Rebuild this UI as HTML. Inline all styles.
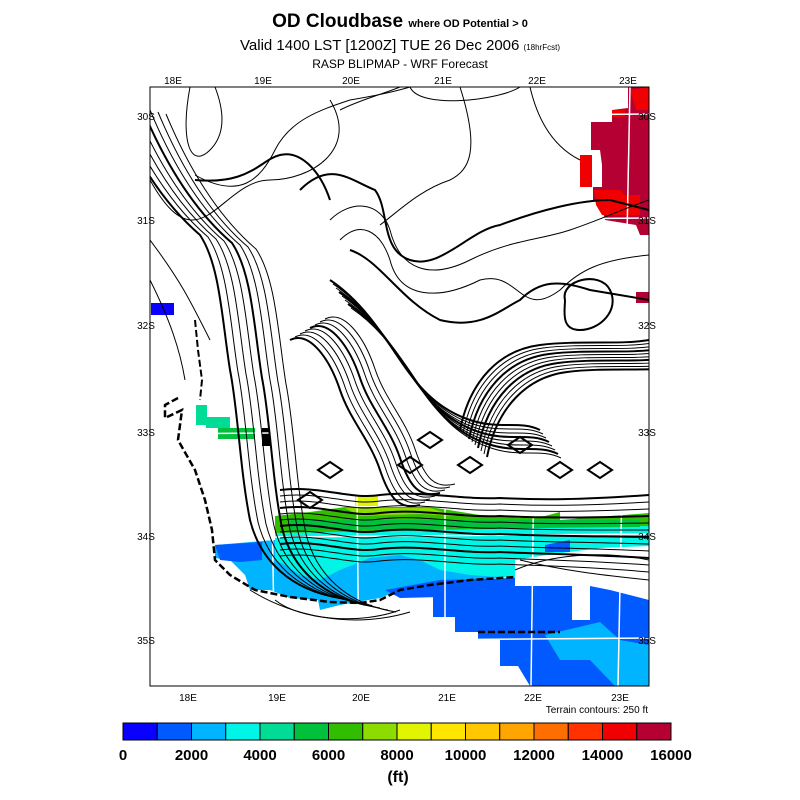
<!DOCTYPE html>
<html><head><meta charset="utf-8">
<style>
body{margin:0;background:#fff;width:800px;height:800px;overflow:hidden;font-family:"Liberation Sans",sans-serif}
svg{display:block}
text{font-family:"Liberation Sans",sans-serif}
</style></head>
<body>
<svg id="chart" width="800" height="800" viewBox="0 0 800 800">
  <defs><clipPath id="mapclip"><rect x="150" y="87" width="499" height="599"/></clipPath></defs>
  <text x="400" y="27" text-anchor="middle" font-size="19" font-weight="bold">OD Cloudbase <tspan font-size="11">where OD Potential &gt; 0</tspan></text>
  <text x="400" y="50" text-anchor="middle" font-size="15">Valid 1400 LST [1200Z] TUE 26 Dec 2006 <tspan font-size="8">(18hrFcst)</tspan></text>
  <text x="400" y="68" text-anchor="middle" font-size="12">RASP BLIPMAP - WRF Forecast</text>

  <g id="map">
    <g clip-path="url(#mapclip)">
      <g id="fills"></g>
      <g id="grid" stroke="#fff" stroke-width="1.5" fill="none"></g>
      <g id="contours" fill="none" stroke="#000"></g>
    </g>
    <rect x="150" y="87" width="499" height="599" fill="none" stroke="#000" stroke-width="1"/>
    <g id="labels" font-size="10"></g>
  </g>
  <text x="648" y="713" text-anchor="end" font-size="10">Terrain contours: 250 ft</text>
  <g id="colorbar"></g>
  <text x="398" y="782" text-anchor="middle" font-size="16" font-weight="bold">(ft)</text>
</svg>
<script>
const levels=[0,1000,2000,3000,4000,5000,6000,7000,8000,9000,10000,11000,12000,13000,14000,15000,16000];
const levelColors=["#0a00ff","#005aff","#00b4ff","#00f5e6","#00dc96","#00c03c","#32be00","#8cdc00","#e1f500","#ffe600","#ffc800","#ffa500","#ff6e00","#ff3200","#f00000","#b40032"];
const tickLabels=[0,2000,4000,6000,8000,10000,12000,14000,16000];
const lonTop=["18E","19E","20E","21E","22E","23E"];
const lonBottom=["18E","19E","20E","21E","22E","23E"];
const latLabels=["30S","31S","32S","33S","34S","35S"];

const NS="http://www.w3.org/2000/svg";
function mk(tag,attrs,parent){const e=document.createElementNS(NS,tag);for(const k in attrs)e.setAttribute(k,attrs[k]);parent.appendChild(e);return e;}
const cb=document.getElementById('colorbar');
const cbX0=123,cbX1=671,cbY=723,cbH=17;
function cbx(v){return cbX0+(v-levels[0])/(levels[levels.length-1]-levels[0])*(cbX1-cbX0);}
for(let i=0;i<levelColors.length;i++){
  const r=mk('rect',{x:cbx(levels[i]),y:cbY,width:cbx(levels[i+1])-cbx(levels[i]),height:cbH,fill:levelColors[i],stroke:'#000','stroke-width':1},cb);
  
  
}
tickLabels.forEach(v=>{
  const t=mk('text',{x:cbx(v),y:760,'text-anchor':'middle','font-size':15,'font-weight':'bold'},cb);
  t.textContent=v;
  
  
});
const lab=document.getElementById('labels');
const topX=[173,263,351,443,537,628],botX=[188,277,361,447,533,620],latY=[116,220,325,432,536,640];
lonTop.forEach((s,i)=>{const t=mk('text',{x:topX[i],y:84,'text-anchor':'middle'},lab);t.textContent=s;});
lonBottom.forEach((s,i)=>{const t=mk('text',{x:botX[i],y:701,'text-anchor':'middle'},lab);t.textContent=s;});
latLabels.forEach((s,i)=>{
  let t=mk('text',{x:146,y:latY[i]+4,'text-anchor':'middle'},lab);t.textContent=s;
  t=mk('text',{x:647,y:latY[i]+4,'text-anchor':'middle'},lab);t.textContent=s;
});
const F=document.getElementById('fills');
function poly(pts,col,name){const p=mk('polygon',{points:pts,fill:col},F);}
poly("433,586 572,586 572,620 590,620 590,586 610,590 649,600 649,686 530,686 518,666 500,666 500,640 478,640 478,632 455,632 455,617 433,617",levelColors[1],"south-blue-area");
poly("545,635 600,622 620,640 649,645 649,686 615,686 590,660 560,660","#00b4ff","south-lightblue-area");
poly("215,545 275,540 515,545 515,575 450,585 405,588 380,598 340,605 320,610 318,600 290,598 270,590 250,590 245,575 230,560 215,558","#00b4ff","coastal-lightblue-area");
poly("385,590 440,580 515,578 515,590 440,597 400,598","#005aff","coastal-blue-strip");
poly("215,545 262,542 262,560 240,562 220,560","#005aff","west-blue-patch");
poly("275,528 649,520 649,546 600,548 570,552 540,556 515,560 515,578 470,575 440,570 420,560 400,555 370,558 340,570 320,580 300,575 285,565 275,560","#00f5e6","cyan-band");
poly("275,516 310,512 345,507 430,507 480,515 520,518 545,516 560,512 560,520 649,513 649,526 275,533","#32be00","green-band");
poly("290,520 640,520 640,527 290,530","#00c03c","green-band-lower");
poly("345,508 430,508 455,516 420,514 360,516","#8cdc00","yellowgreen-stripe");
poly("355,495 378,495 378,506 355,506","#e1f500","yellow-patch");
poly("545,545 570,540 570,552 545,552","#005aff","east-blue-patch");
poly("196,405 207,405 207,417 230,417 230,428 206,428 206,425 196,425","#00dc96","west-teal-patch");
poly("218,428 255,428 255,439 218,439","#00c03c","west-green-patch");
poly("262,428 270,428 270,446 262,446","#000","black-patch");
poly("151,303 174,303 174,315 151,315","#0a00ff","isolated-blue-patch");
poly("628,87 649,87 649,235 640,235 636,225 605,220 600,200 593,200 593,187 602,187 602,165 600,150 591,150 591,122 612,122 612,110 628,108","#b40032","crimson-area");
poly("580,155 592,155 592,187 580,187","#f00000","red-patch-1");
poly("594,190 620,190 625,195 640,195 640,215 602,215 596,205","#f00000","red-patch-2");
poly("612,110 625,110 625,117 612,117","#f00000","red-patch-3");
poly("630,90 649,87 649,110 636,110","#f00000","red-patch-4");
poly("636,292 649,292 649,303 636,303","#b40032","crimson-patch-east");
const G=document.getElementById('grid');
for(let i=0;i<6;i++){const l=mk('line',{x1:topX[i]+(i==0?10:2),y1:87,x2:botX[i]-2,y2:686},G);}
latY.forEach(y=>{const l=mk('line',{x1:150,y1:y+2,x2:649,y2:y-2},G);});
const C=document.getElementById('contours');
function line(d,w,dash,name){const p=mk('path',{d:d,'stroke-width':w},C);if(dash)p.setAttribute('stroke-dasharray',dash);}
line("M178,398 L165,405 L165,418 L182,410 L178,440 L195,470 L205,500 L212,530 L215,560 L230,575 L255,590 L290,597 L330,602 L360,603 L380,600 L400,590 L430,585 L470,580 L515,577",2.5,"7,3","coastline");
line("M195,320 L198,350 L202,380 L200,400",2,"7,3","coastline-north");
line("M478,632 L560,632",2.5,"7,3","coastline-offshore");
const base="M150,100 C175,160 205,205 240,235 C260,265 262,320 270,370 C278,410 280,470 290,520 C300,560 330,590 380,598";
for(let k=0;k<8;k++){line(base,k%4==0?2:1,null,"contour-west");C.lastChild.setAttribute('transform',`translate(${(k-5)*8},${k*2})`);}
line("M150,180 C200,270 220,180 270,180 C310,180 360,150 330,100",1,null,"contour-north-1");
line("M190,87 C180,140 190,170 210,150 C230,130 220,100 215,87",1,null,"contour-north-2");
line("M195,175 C240,200 260,180 275,150 C290,120 320,110 350,100 C380,95 400,90 410,87",1,null,"contour-north-3");
line("M195,180 C250,185 260,160 280,155 C300,150 320,170 330,200",2,null,"contour-north-4");
line("M300,190 C330,160 350,180 375,190 C390,210 380,250 410,260 C440,270 470,230 500,225 C540,210 580,200 610,200 L649,210",2,null,"contour-mid-thick");
line("M330,220 C350,200 380,200 390,230 C400,270 430,280 470,260 C510,240 540,240 570,230 C600,220 620,210 649,200",1,null,"contour-mid-1");
line("M340,240 C360,220 380,230 390,260 C400,300 440,300 480,280 C520,270 520,320 560,290 C580,270 600,260 649,255",1,null,"contour-mid-2");
line("M350,250 C380,260 400,300 440,320 C480,330 500,310 520,300 C540,280 560,280 590,290 L649,300",2,null,"contour-mid-3");
line("M340,110 C360,100 380,95 400,87 M410,87 C420,110 500,100 520,87",1,null,"contour-top");
line("M460,87 C480,150 470,170 450,180 C420,190 400,210 380,225",1,null,"contour-top-2");
line("M530,87 C540,130 560,150 580,160",1,null,"contour-top-3");
line("M565,300 C560,280 600,270 610,290 C620,310 600,330 580,330 C560,330 565,310 565,300",2,null,"contour-east-ring");
line("M150,240 C180,280 190,300 210,340",1,null,"contour-far-west");
line("M150,280 C170,320 180,350 185,380",1,null,"contour-far-west-2");
for(let k=0;k<8;k++){line("M290,340 C310,330 330,360 340,390 C350,420 370,440 380,470 C390,500 400,510 420,505",k%4==0?2:1,null,"contour-ridge");C.lastChild.setAttribute('transform',`translate(${k*5},${-k*3})`);}
for(let k=0;k<8;k++){line("M330,280 C360,300 380,330 400,360 C420,390 440,410 470,420 C500,430 520,420 540,430",k%3==0?2:1,null,"contour-ridge-2");C.lastChild.setAttribute('transform',`translate(${k*3},${k*4})`);}
for(let k=0;k<10;k++){line("M460,430 C470,380 500,350 540,345 C580,340 620,345 649,340",k%3==0?2:1,null,"contour-east-dense");C.lastChild.setAttribute('transform',`translate(${k*3},${k*3})`);}
for(let k=0;k<12;k++){line("M280,490 C320,485 350,500 380,495 C420,490 460,500 500,498 C540,500 580,500 649,"+(495+k),k%3==0?2:1,null,"contour-south-dense");C.lastChild.setAttribute('transform',`translate(0,${k*6})`);}
[[410,465],[470,465],[520,445],[560,470],[600,470],[430,440],[330,470],[310,500]].forEach(([x,y])=>{line(`M${x-12},${y} L${x},${y-8} L${x+12},${y} L${x},${y+8} Z`,2,null,"contour-ring");});
line("M275,600 C300,620 360,625 400,610",1,null,"contour-coast-outer");
line("M250,590 C290,615 350,630 410,612",1,null,"contour-coast-outer-2");
line("M520,560 C560,570 600,575 649,580",1,null,"contour-east-coast");
line("M515,570 C550,555 600,550 649,560",1,null,"contour-east-coast-2");
</script>
</body></html>
